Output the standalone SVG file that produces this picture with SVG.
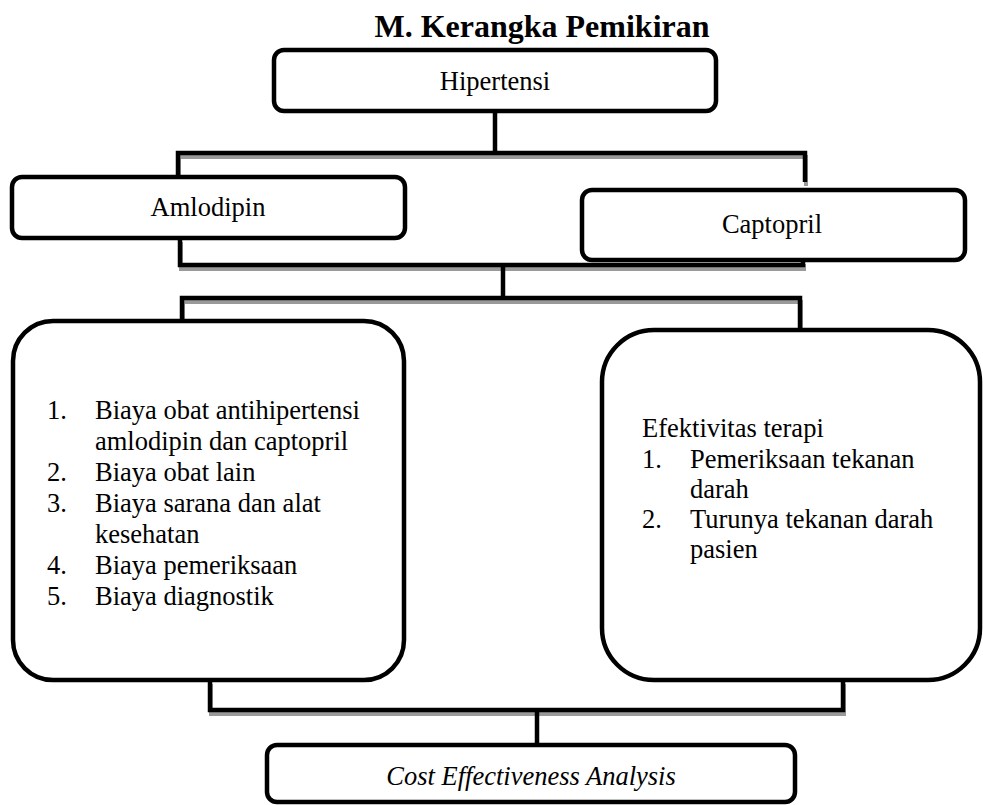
<svg xmlns="http://www.w3.org/2000/svg" width="983" height="805" viewBox="0 0 983 805">
<style>
text{font-family:"Liberation Serif","Times New Roman",serif;font-size:26.5px;fill:#000}
.t{font-weight:bold;font-size:32px}
.c{text-anchor:middle}
.i{font-style:italic}
.box{fill:#fff;stroke:#000;stroke-width:4.5}
.ln{fill:none;stroke:#000;stroke-width:4.5}
.sh{fill:none;stroke:#9a9a9a;stroke-width:4}
</style>
<rect width="983" height="805" fill="#fff"/>
<text class="t c" x="542" y="37">M. Kerangka Pemikiran</text>
<g id="connectors">
<g transform="translate(1,4)">
<polyline class="sh" points="178,177 178,153 805,153 805,182"/>
<polyline class="sh" points="180,238 180,265 803,265 803,260"/>
<polyline class="sh" points="182,321 182,298 800,298 800,330"/>
<polyline class="sh" points="210,680 210,710 843,710 843,680"/>
</g>
<line class="ln" x1="495" y1="111" x2="495" y2="153"/>
<polyline class="ln" points="178,177 178,153 805,153 805,182"/>
<polyline class="ln" points="180,238 180,265 803,265 803,260"/>
<line class="ln" x1="503" y1="265" x2="503" y2="298"/>
<polyline class="ln" points="182,321 182,298 800,298 800,330"/>
<polyline class="ln" points="210,680 210,710 843,710 843,680"/>
<line class="ln" x1="537" y1="710" x2="537" y2="745"/>
</g>
<g id="hipertensi">
<rect class="box" x="274" y="50" width="442" height="61" rx="10"/>
<text class="c" x="495" y="90">Hipertensi</text>
</g>
<g id="amlodipin">
<rect class="box" x="12" y="177" width="393" height="61" rx="10"/>
<text class="c" x="208" y="216">Amlodipin</text>
</g>
<g id="captopril">
<rect class="box" x="582" y="190" width="383" height="70" rx="10"/>
<text class="c" x="772" y="233">Captopril</text>
</g>
<g id="biaya">
<rect class="box" x="13" y="321" width="391" height="359" rx="40"/>
<text x="47" y="419">1.</text><text x="95" y="419">Biaya obat antihipertensi</text>
<text x="95" y="450">amlodipin dan captopril</text>
<text x="47" y="481">2.</text><text x="95" y="481">Biaya obat lain</text>
<text x="47" y="512">3.</text><text x="95" y="512">Biaya sarana dan alat</text>
<text x="95" y="543">kesehatan</text>
<text x="47" y="574">4.</text><text x="95" y="574">Biaya pemeriksaan</text>
<text x="47" y="605">5.</text><text x="95" y="605">Biaya diagnostik</text>
</g>
<g id="efektivitas">
<rect class="box" x="602" y="330" width="378" height="350" rx="52"/>
<text x="642" y="437">Efektivitas terapi</text>
<text x="642" y="468">1.</text><text x="690" y="468">Pemeriksaan tekanan</text>
<text x="690" y="498">darah</text>
<text x="642" y="528">2.</text><text x="690" y="528">Turunya tekanan darah</text>
<text x="690" y="558">pasien</text>
</g>
<g id="cea">
<rect class="box" x="267" y="745" width="528" height="57" rx="10"/>
<text class="c i" x="531" y="785">Cost Effectiveness Analysis</text>
</g>
</svg>
